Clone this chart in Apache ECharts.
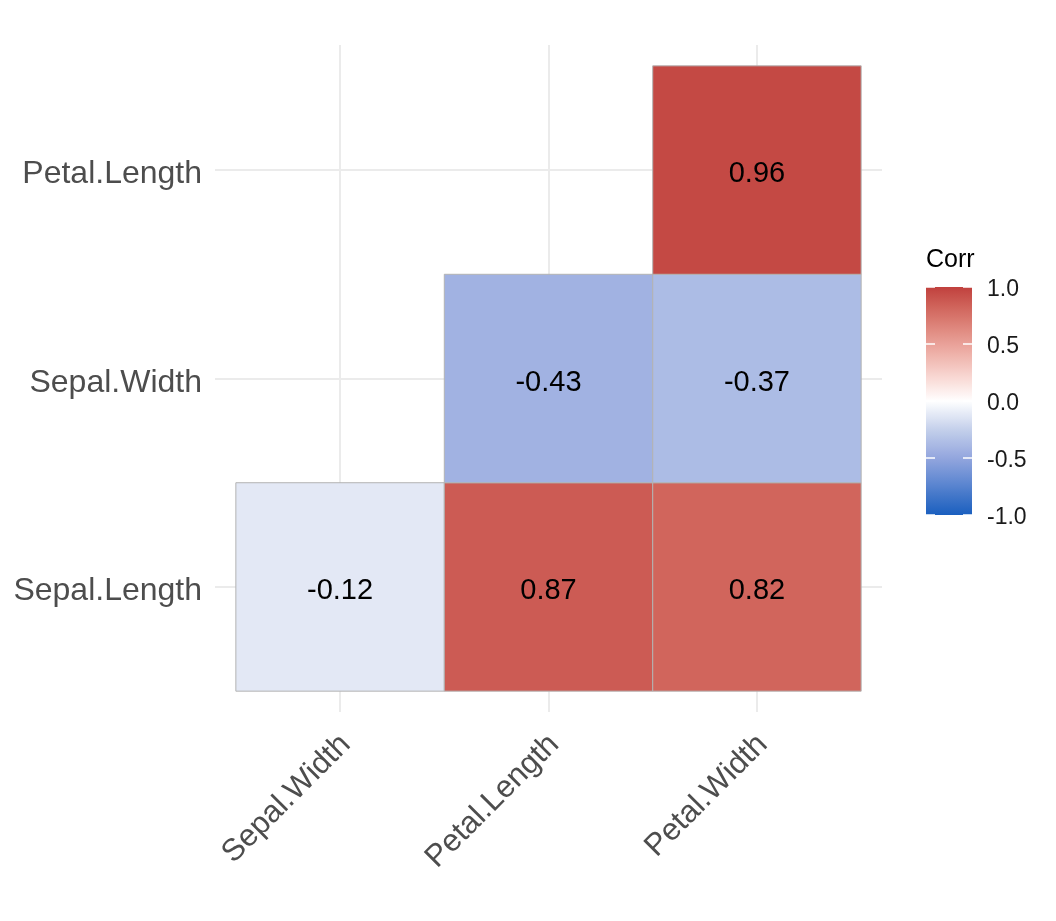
<!DOCTYPE html>
<html>
<head>
<meta charset="utf-8">
<script src="https://cdn.jsdelivr.net/npm/echarts@6.0.0/dist/echarts.min.js"></script>
<style>
html, body { margin: 0; padding: 0; background: #fff; }
#chart { width: 1056px; height: 921px; }
</style>
</head>
<body>
<div id="chart"></div>
<script>
var xCategories = ['Sepal.Width', 'Petal.Length', 'Petal.Width'];
var yCategories = ['Sepal.Length', 'Sepal.Width', 'Petal.Length'];
// lower triangle: column (1-based), row (1-based from bottom), value
var cellCol = [1, 2, 3, 2, 3, 3];
var cellRow = [1, 1, 1, 2, 2, 3];
var cellCorr = [-0.12, 0.87, 0.82, -0.43, -0.37, 0.96];
var legendTicks = [-1, -0.5, 0, 0.5, 1];

// colour stops (value -> colour), blue side
var negStops = [[-1, '#1A5FBF'], [-0.5, '#93A6DE'], [-0.25, '#C4D0EB'], [0, '#FFFFFF']];
var midColor = '#FFFFFF', highColor = '#C0403D';
var fontFamily = '"Liberation Sans", Arial, Helvetica, sans-serif';

function hexToRgbArr(hex) {
    return [parseInt(hex.substr(1, 2), 16), parseInt(hex.substr(3, 2), 16), parseInt(hex.substr(5, 2), 16)];
}
// red side like ggplot gradient2: interpolate in Lab
function hexToLab(hex) {
    var rgb = hexToRgbArr(hex);
    var lin = function (c) { c = c / 255; return c <= 0.04045 ? c / 12.92 : Math.pow((c + 0.055) / 1.055, 2.4); };
    var r = lin(rgb[0]), g = lin(rgb[1]), b = lin(rgb[2]);
    var X = (r * 0.4124 + g * 0.3576 + b * 0.1805) / 0.95047;
    var Y = r * 0.2126 + g * 0.7152 + b * 0.0722;
    var Z = (r * 0.0193 + g * 0.1192 + b * 0.9505) / 1.08883;
    var f = function (t) { return t > 0.008856 ? Math.cbrt(t) : 7.787 * t + 16 / 116; };
    var fx = f(X), fy = f(Y), fz = f(Z);
    return [116 * fy - 16, 500 * (fx - fy), 200 * (fy - fz)];
}
function labToRgb(lab) {
    var fy = (lab[0] + 16) / 116, fx = fy + lab[1] / 500, fz = fy - lab[2] / 200;
    var finv = function (t) { return t * t * t > 0.008856 ? t * t * t : (t - 16 / 116) / 7.787; };
    var X = finv(fx) * 0.95047, Y = finv(fy), Z = finv(fz) * 1.08883;
    var r = X * 3.2406 - Y * 1.5372 - Z * 0.4986;
    var g = -X * 0.9689 + Y * 1.8758 + Z * 0.0415;
    var b = X * 0.0557 - Y * 0.2040 + Z * 1.0570;
    var gam = function (c) {
        c = c <= 0.0031308 ? 12.92 * c : 1.055 * Math.pow(c, 1 / 2.4) - 0.055;
        return Math.round(Math.max(0, Math.min(1, c)) * 255);
    };
    return 'rgb(' + gam(r) + ',' + gam(g) + ',' + gam(b) + ')';
}
var labMid = hexToLab(midColor), labHigh = hexToLab(highColor);
function corrColor(v) {
    if (v < 0) {
        for (var i = 1; i < negStops.length; i++) {
            if (v <= negStops[i][0]) {
                var a = hexToRgbArr(negStops[i - 1][1]), b = hexToRgbArr(negStops[i][1]);
                var t = (v - negStops[i - 1][0]) / (negStops[i][0] - negStops[i - 1][0]);
                return 'rgb(' + Math.round(a[0] + (b[0] - a[0]) * t) + ',' +
                    Math.round(a[1] + (b[1] - a[1]) * t) + ',' +
                    Math.round(a[2] + (b[2] - a[2]) * t) + ')';
            }
        }
        return negStops[0][1];
    }
    var s = Math.min(1, v);
    return labToRgb([
        labMid[0] + (labHigh[0] - labMid[0]) * s,
        labMid[1] + (labHigh[1] - labMid[1]) * s,
        labMid[2] + (labHigh[2] - labMid[2]) * s
    ]);
}

var chart = echarts.init(document.getElementById('chart'));

var cells = cellCol.map(function (c, i) {
    return [c, cellRow[i], cellCorr[i]];
});

var barStops = [];
for (var k = 0; k <= 40; k++) {
    barStops.push({offset: k / 40, color: corrColor(1 - k / 20)});
}

var option = {
    animation: false,
    backgroundColor: '#fff',
    title: {
        text: 'Corr',
        left: 926,
        top: 248,
        padding: 0,
        textStyle: {fontFamily: fontFamily, fontSize: 25, fontWeight: 'normal', color: '#000'}
    },
    grid: [
        {left: 215, top: 45, width: 667, height: 667},
        {left: 926, top: 287, width: 46, height: 228}
    ],
    xAxis: [{
        type: 'value',
        gridIndex: 0,
        min: 0.4,
        max: 3.6,
        axisLine: {show: false},
        axisTick: {show: false, customValues: [1, 2, 3]},
        axisLabel: {
            customValues: [1, 2, 3],
            formatter: function (v) { return xCategories[Math.round(v) - 1]; },
            rotate: 45,
            margin: 22,
            verticalAlign: 'top',
            lineHeight: 16,
            fontSize: 31,
            fontFamily: fontFamily,
            color: '#4D4D4D'
        },
        splitLine: {show: true, lineStyle: {color: '#EBEBEB', width: 2}}
    }, {
        type: 'value',
        gridIndex: 1,
        min: 0,
        max: 1,
        show: false
    }],
    yAxis: [{
        type: 'value',
        gridIndex: 0,
        min: 0.4,
        max: 3.6,
        axisLine: {show: false},
        axisTick: {show: false, customValues: [1, 2, 3]},
        axisLabel: {
            customValues: [1, 2, 3],
            formatter: function (v) { return yCategories[Math.round(v) - 1]; },
            margin: 13,
            verticalAlign: 'top',
            lineHeight: 9,
            fontSize: 32,
            fontFamily: fontFamily,
            color: '#4D4D4D'
        },
        splitLine: {show: true, lineStyle: {color: '#EBEBEB', width: 2}}
    }, {
        type: 'value',
        gridIndex: 1,
        min: -1,
        max: 1,
        interval: 0.5,
        position: 'right',
        axisLine: {show: false},
        axisTick: {show: false},
        splitLine: {show: false},
        axisLabel: {
            formatter: function (v) { return v.toFixed(1); },
            margin: 15,
            verticalAlign: 'top',
            lineHeight: 6,
            fontSize: 23,
            fontFamily: fontFamily,
            color: '#1A1A1A'
        }
    }],
    series: [{
        type: 'custom',
        xAxisIndex: 0,
        yAxisIndex: 0,
        data: cells,
        renderItem: function (params, api) {
            var x = api.value(0), y = api.value(1), v = api.value(2);
            var p0 = api.coord([x - 0.5, y + 0.5]);
            var p1 = api.coord([x + 0.5, y - 0.5]);
            var c = api.coord([x, y]);
            return {
                type: 'group',
                children: [{
                    type: 'rect',
                    shape: {x: p0[0], y: p0[1], width: p1[0] - p0[0], height: p1[1] - p0[1]},
                    style: {fill: corrColor(v), stroke: '#B3B3B3', lineWidth: 1}
                }, {
                    type: 'text',
                    x: c[0],
                    y: c[1] + 4,
                    style: {
                        text: v.toFixed(2),
                        fill: '#000',
                        font: '29px ' + fontFamily,
                        align: 'center',
                        verticalAlign: 'middle'
                    }
                }]
            };
        }
    }, {
        type: 'custom',
        xAxisIndex: 1,
        yAxisIndex: 1,
        data: [[0, 0]],
        renderItem: function (params, api) {
            var top = api.coord([0, 1]);
            var bottom = api.coord([1, -1]);
            var children = [{
                type: 'rect',
                shape: {x: top[0], y: top[1], width: bottom[0] - top[0], height: bottom[1] - top[1]},
                style: {fill: new echarts.graphic.LinearGradient(0, 0, 0, 1, barStops)}
            }];
            legendTicks.forEach(function (t) {
                var yy = api.coord([0, t])[1];
                children.push({
                    type: 'line',
                    shape: {x1: top[0], y1: yy, x2: top[0] + 9, y2: yy},
                    style: {stroke: '#fff', lineWidth: 1.5}
                }, {
                    type: 'line',
                    shape: {x1: bottom[0] - 9, y1: yy, x2: bottom[0], y2: yy},
                    style: {stroke: '#fff', lineWidth: 1.5}
                });
            });
            return {type: 'group', children: children};
        }
    }]
};

chart.setOption(option);
</script>
</body>
</html>
